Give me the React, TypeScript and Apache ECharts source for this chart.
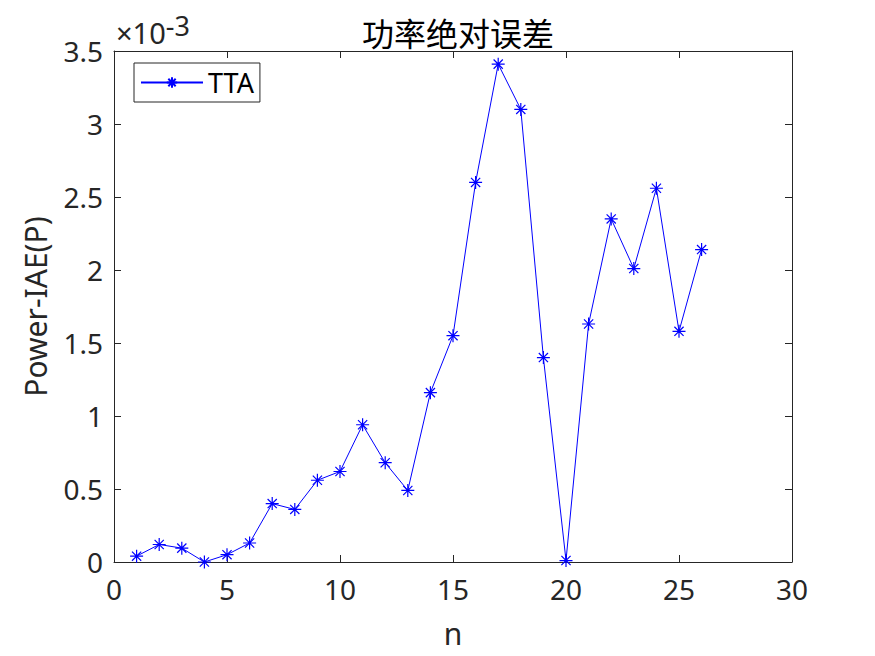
import React, { useEffect, useRef } from "react";
import * as echarts from "echarts";

// x values (n) and absolute power error, in units of 1e-3
const nValues = [1, 2, 3, 4, 5, 6, 7, 8, 9, 10, 11, 12, 13, 14, 15, 16, 17, 18, 19, 20, 21, 22, 23, 24, 25, 26];
const ttaValues = [0.04, 0.12, 0.095, 0.0, 0.05, 0.13, 0.40, 0.36, 0.56, 0.62, 0.94, 0.68, 0.49, 1.16, 1.55, 2.60, 3.41, 3.10, 1.40, 0.01, 1.63, 2.35, 2.01, 2.56, 1.58, 2.14];
const seriesName = "TTA";
const titleText = "功率绝对误差";
const xName = "n";
const yName = "Power-IAE(P)";

const FONT = "'Noto Sans', sans-serif";
const CJK = "'Noto Sans CJK SC', sans-serif";
const AX = "#262626";
const STAR = "path://M0,-10L0,10M-10,0L10,0M-7.07,-7.07L7.07,7.07M-7.07,7.07L7.07,-7.07";

export default function App() {
  const ref = useRef<HTMLDivElement>(null);
  useEffect(() => {
    if (!ref.current) return;
    const chart = echarts.init(ref.current, undefined, { renderer: "svg" });
    const axisCommon = {
      axisLine: { show: true, onZero: false, lineStyle: { color: AX, width: 1 } },
      axisTick: { show: true, inside: true, length: 7, lineStyle: { color: AX } },
      splitLine: { show: false },
    };
    chart.setOption({
      animation: false,
      backgroundColor: "#ffffff",
      title: {
        text: titleText,
        left: 453,
        textAlign: "center",
        top: 11,
        textStyle: { fontFamily: CJK, fontSize: 32, fontWeight: "normal", color: "#000" },
      },
      legend: {
        left: 134,
        top: 63,
        padding: [6, 6, 6, 6],
        borderColor: AX,
        borderWidth: 1,
        itemWidth: 62,
        itemHeight: 13,
        textStyle: { fontFamily: FONT, fontSize: 27, color: "#000" },
        data: [seriesName],
      },
      grid: { left: 114, right: 83, top: 51, bottom: 94 },
      xAxis: [
        {
          type: "value",
          min: 0,
          max: 30,
          interval: 5,
          name: xName,
          nameLocation: "middle",
          nameGap: 56,
          nameTextStyle: { fontFamily: FONT, fontSize: 30, color: AX },
          axisLabel: { fontFamily: FONT, fontSize: 28, color: AX, margin: 13 },
          ...axisCommon,
        },
        {
          type: "value",
          position: "top",
          min: 0,
          max: 30,
          interval: 5,
          axisLabel: { show: false },
          ...axisCommon,
        },
      ],
      yAxis: [
        {
          type: "value",
          min: 0,
          max: 3.5,
          interval: 0.5,
          name: yName,
          nameLocation: "middle",
          nameGap: 64,
          nameTextStyle: { fontFamily: FONT, fontSize: 30, color: AX },
          axisLabel: { fontFamily: FONT, fontSize: 28, color: AX, margin: 11 },
          ...axisCommon,
        },
        {
          type: "value",
          position: "right",
          min: 0,
          max: 3.5,
          interval: 0.5,
          axisLabel: { show: false },
          ...axisCommon,
        },
      ],
      graphic: [
        {
          type: "text",
          left: 116,
          top: 12,
          style: {
            text: "×10{sup|-3}",
            fontFamily: FONT,
            fontSize: 29,
            fill: AX,
            rich: {
              sup: { fontFamily: FONT, fontSize: 27, fill: AX, verticalAlign: "top", padding: [0, 0, 14, 0] },
            },
          },
        },
      ],
      series: [
        {
          name: seriesName,
          type: "line",
          data: nValues.map((n, i) => [n, ttaValues[i]]),
          symbol: STAR,
          symbolSize: 13,
          showAllSymbol: true,
          lineStyle: { color: "#0000ff", width: 1 },
          itemStyle: { color: "none", borderColor: "#0000ff", borderWidth: 1.2 },
          emphasis: { disabled: true },
        },
      ],
    });
    return () => chart.dispose();
  }, []);
  return <div ref={ref} style={{ position: "fixed", left: 0, top: 0, width: 875, height: 656 }} />;
}
